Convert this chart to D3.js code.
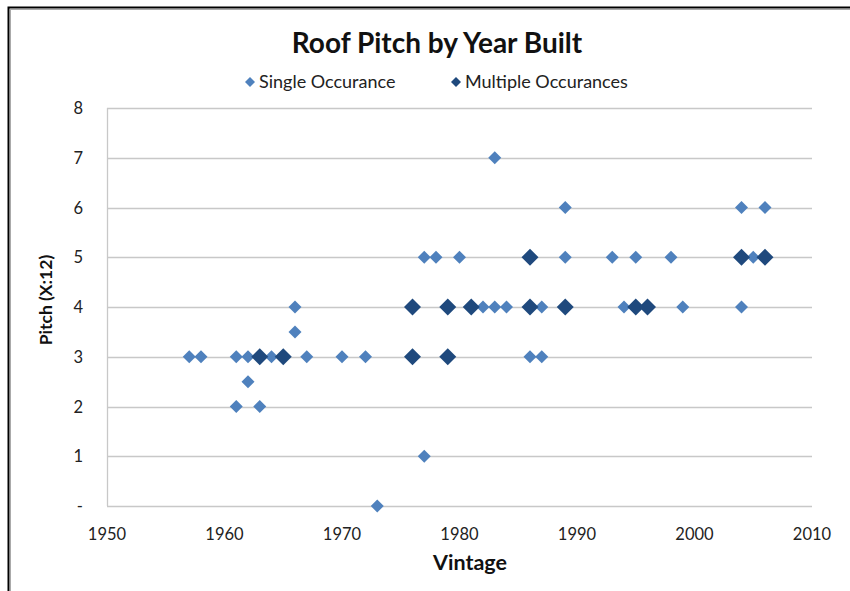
<!DOCTYPE html>
<html><head><meta charset="utf-8">
<script src="https://cdn.jsdelivr.net/npm/d3@7"></script>
<style>html,body{margin:0;padding:0;background:#fff}svg{display:block}</style>
</head><body>
<script>
// Data
const singleYears = [1957,1958,1961,1962,1964,1967,1970,1972,1961,1963,1962,1966,1966,1973,1977,1977,1978,1980,1983,1982,1983,1984,1987,1986,1987,1989,1989,1993,1995,1998,1994,1999,2004,2006,2004,2005];
const singlePitch = [3,3,3,3,3,3,3,3,2,2,2.5,3.5,4,0,1,5,5,5,7,4,4,4,4,3,3,6,5,5,5,5,4,4,6,6,4,5];
const multiYears = [1963,1965,1976,1976,1979,1979,1981,1986,1986,1989,1995,1996,2004,2006];
const multiPitch = [3,3,4,3,4,3,4,5,4,4,4,4,5,5];
const xTicks = [1950,1960,1970,1980,1990,2000,2010];
const yTicks = [0,1,2,3,4,5,6,7,8];
const yTickLabels = ["-","1","2","3","4","5","6","7","8"];

const W = 850, H = 591;
const svg = d3.select("body").append("svg").attr("width", W).attr("height", H);
const font = "Lato, 'Open Sans', sans-serif";

// frame
svg.append("rect").attr("x",8.5).attr("y",7.5).attr("width",W+20).attr("height",H+20)
  .attr("fill","none").attr("stroke","#000").attr("stroke-width",2);
svg.append("rect").attr("x",10.5).attr("y",9.5).attr("width",W+20).attr("height",H+20)
  .attr("fill","none").attr("stroke","#aaa").attr("stroke-width",1);

const x = d3.scaleLinear().domain([1950,2010]).range([107,812]);
const y = d3.scaleLinear().domain([0,8]).range([506,108]);

// gridlines
svg.append("g").selectAll("line").data(yTicks).join("line")
  .attr("x1",x(1950)).attr("x2",x(2010))
  .attr("y1",d=>Math.round(y(d))+0.5).attr("y2",d=>Math.round(y(d))+0.5)
  .attr("stroke","#c8c8c8").attr("stroke-width",1.3);
svg.append("line").attr("x1",x(1950)+0.5).attr("x2",x(1950)+0.5)
  .attr("y1",y(8)).attr("y2",y(0)).attr("stroke","#c8c8c8").attr("stroke-width",1.3);

// y tick labels
svg.append("g").selectAll("text").data(yTicks).join("text")
  .attr("x",83).attr("y",d=>y(d)+6).attr("text-anchor","end")
  .attr("font-family",font).attr("font-size",16.5).attr("fill","#222")
  .text((d,i)=>yTickLabels[i]);
// x tick labels
svg.append("g").selectAll("text").data(xTicks).join("text")
  .attr("x",d=>x(d)).attr("y",540).attr("text-anchor","middle")
  .attr("font-family",font).attr("font-size",16.5).attr("fill","#222")
  .text(d=>d);

// axis titles
svg.append("text").attr("x",470).attr("y",570).attr("text-anchor","middle")
  .attr("font-family",font).attr("font-size",21.5).attr("font-weight","bold").attr("fill","#111").text("Vintage");
svg.append("text").attr("transform","translate(52,300) rotate(-90)").attr("text-anchor","middle")
  .attr("font-family",font).attr("font-size",17.5).attr("font-weight","bold").attr("fill","#111").text("Pitch (X:12)");

// title
svg.append("text").attr("x",437).attr("y",53).attr("text-anchor","middle")
  .attr("font-family",font).attr("font-size",28).attr("font-weight","bold").attr("fill","#111").text("Roof Pitch by Year Built");

const light = "#4f81bd", dark = "#1f497d";
const diamond = r => `M0,${-r}L${r},0L0,${r}L${-r},0Z`;

// points
svg.append("g").selectAll("path").data(singleYears.map((d,i)=>[d,singlePitch[i]])).join("path")
  .attr("transform",d=>`translate(${x(d[0])},${y(d[1])})`).attr("d",diamond(6.5)).attr("fill",light);
svg.append("g").selectAll("path").data(multiYears.map((d,i)=>[d,multiPitch[i]])).join("path")
  .attr("transform",d=>`translate(${x(d[0])},${y(d[1])})`).attr("d",diamond(8.5)).attr("fill",dark);

// legend
const leg = svg.append("g");
leg.append("path").attr("transform","translate(250,82)").attr("d",diamond(5)).attr("fill",light);
leg.append("text").attr("x",259).attr("y",88).attr("font-family",font).attr("font-size",18).attr("fill","#222").text("Single Occurance");
leg.append("path").attr("transform","translate(456,82)").attr("d",diamond(5)).attr("fill",dark);
leg.append("text").attr("x",465).attr("y",88).attr("font-family",font).attr("font-size",18).attr("fill","#222").text("Multiple Occurances");
</script>
</body></html>
